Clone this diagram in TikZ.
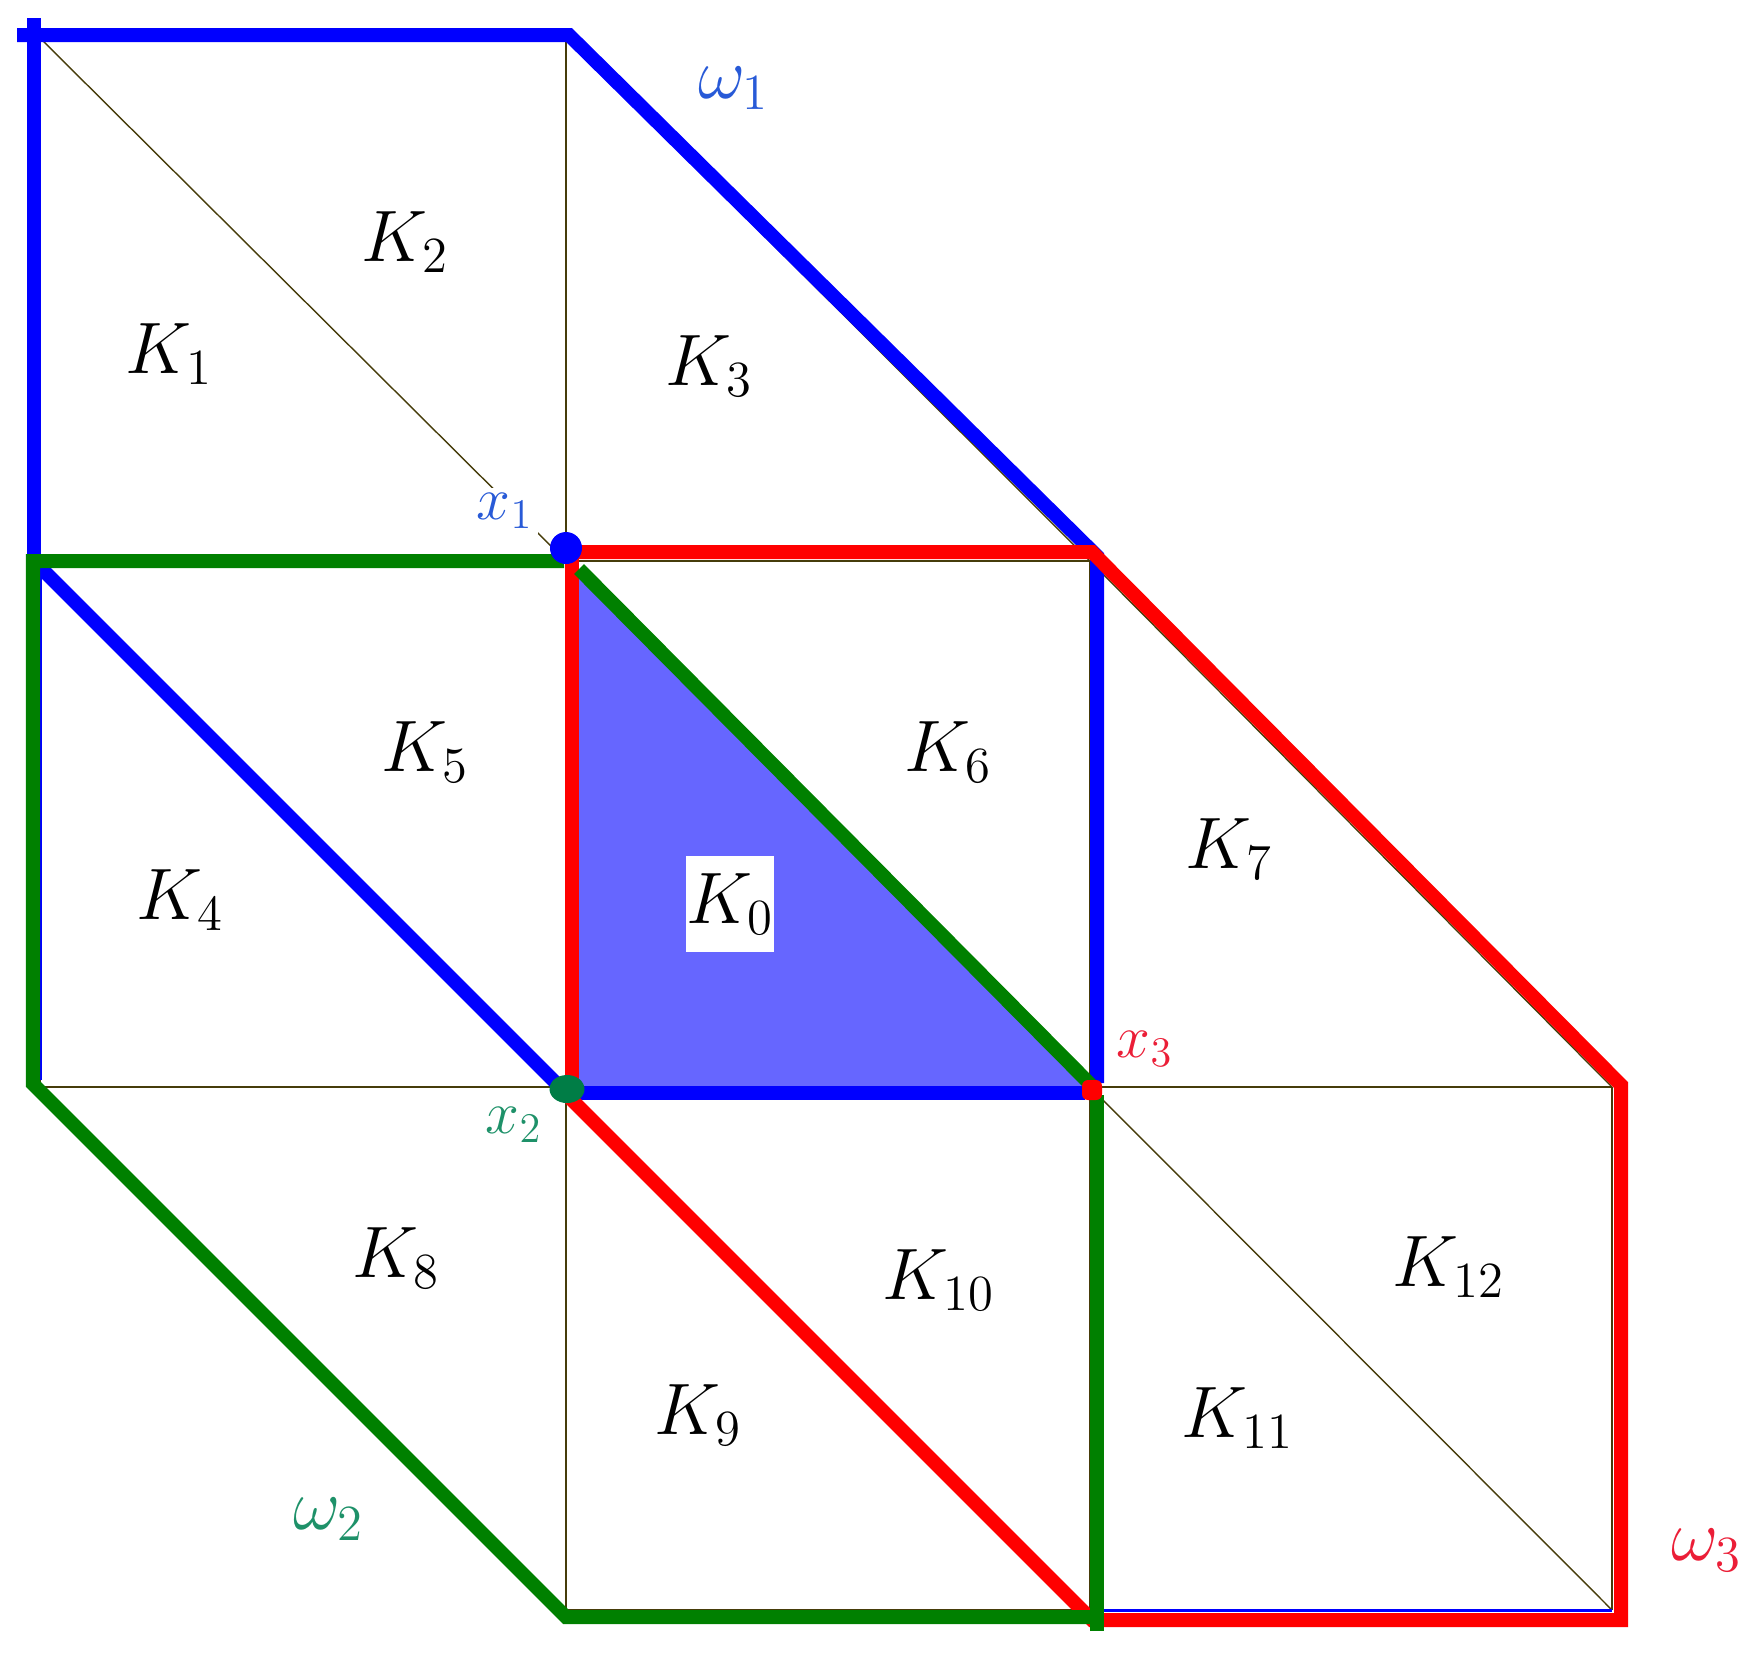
\documentclass[tikz,border=0pt]{standalone}
\usetikzlibrary{shapes.geometric}
\definecolor{meshc}{RGB}{70,60,10}
\definecolor{bl}{RGB}{0,0,255}
\definecolor{gr}{RGB}{0,128,0}
\definecolor{rd}{RGB}{255,0,0}
\definecolor{kfill}{RGB}{102,102,255}
\definecolor{dotgr}{RGB}{0,125,70}
\definecolor{labbl}{RGB}{40,90,215}
\definecolor{labgr}{RGB}{30,145,105}
\definecolor{labrd}{RGB}{235,30,55}
\begin{document}
\begin{tikzpicture}[x=0.01cm,y=-0.01cm,
  meshline/.style={draw=meshc,line width=0.4pt},
  bound/.style={line width=1.4mm,line join=miter},
  sliver/.style={draw=bl,line width=0.25mm},
  klab/.style={font=\huge,inner sep=0pt},
  xlab/.style={font=\LARGE,inner sep=1.5pt},
  wlab/.style={font=\huge,inner sep=0pt}]
\useasboundingbox (0,0) rectangle (1764,1656);
% grid points
\coordinate (p00) at (40,38);
\coordinate (p10) at (566,38);
\coordinate (p01) at (40,561);
\coordinate (p11) at (566,561);
\coordinate (p21) at (1090,561);
\coordinate (p02) at (40,1087);
\coordinate (p12) at (566,1087);
\coordinate (p22) at (1090,1087);
\coordinate (p32) at (1612,1087);
\coordinate (p13) at (566,1610);
\coordinate (p23) at (1090,1610);
\coordinate (p33) at (1612,1610);
% K0 fill
\fill[kfill] (p11) -- (p12) -- (p22) -- cycle;
% thin mesh
\draw[meshline] (p00) -- (p10);
\draw[meshline] (p00) -- (p02);
\draw[meshline] (p01) -- (p21);
\draw[meshline] (p02) -- (p32);
\draw[meshline] (p13) -- (p33);
\draw[meshline] (p10) -- (p13);
\draw[meshline] (p21) -- (p23);
\draw[meshline] (p32) -- (p33);
\draw[meshline] (p00) -- (p11);
\draw[meshline] (p10) -- (p21);
\draw[meshline] (p01) -- (p12);
\draw[meshline] (p11) -- (p22);
\draw[meshline] (p21) -- (p32);
\draw[meshline] (p02) -- (p13);
\draw[meshline] (p12) -- (p23);
\draw[meshline] (p22) -- (p33);
% small blue slivers
\draw[sliver] (40.5,561) -- (40.5,1080);
\draw[sliver] (1097,1610.5) -- (1612,1610.5);
% omega_1 (blue)
\draw[bound,draw=bl] (34,18) -- (34,555);
\draw[bound,draw=bl] (17,35) -- (569,35) -- (1097,556) -- (1097,1083);
\draw[bound,draw=bl] (566,1093) -- (1085,1093);
\draw[bound,draw=bl] (38,565) -- (563,1090);
% omega_3 (red)
\draw[bound,draw=rd] (566,552) -- (1092,552) -- (1621,1085) -- (1621,1620) -- (1092,1620) -- (568,1096);
\draw[bound,draw=rd] (572,1095) -- (572,545);
% omega_2 (green)
\draw[bound,draw=gr] (564,561) -- (33,561) -- (33,1084) -- (566,1617) -- (1097,1617);
\draw[bound,draw=gr] (1097,1631) -- (1097,1095);
\draw[bound,draw=gr] (579,569) -- (1093,1087);
% vertex dots
\node[circle,fill=bl,inner sep=0pt,minimum size=0.32cm] (d1) at (566,548) {};
\node[ellipse,fill=dotgr,inner sep=0pt,minimum width=0.35cm,minimum height=0.28cm] (d2) at (567,1089) {};
\node[rectangle,rounded corners=0.6mm,fill=rd,inner sep=0pt,minimum size=0.2cm] (d3) at (1092,1090) {};
% element labels
\node[klab] (k1) at (169,354) {$K_{1}$};
\node[klab] (k2) at (405,242) {$K_{2}$};
\node[klab] (k3) at (709,366) {$K_{3}$};
\node[klab] (k4) at (180,900) {$K_{4}$};
\node[klab] (k5) at (425,752) {$K_{5}$};
\node[klab] (k6) at (948,752) {$K_{6}$};
\node[klab] (k7) at (1229,849) {$K_{7}$};
\node[klab,fill=white,minimum width=0.81cm,minimum height=0.96cm] (k0) at (730,904) {$K_{0}$};
\node[klab] (k8) at (396,1258) {$K_{8}$};
\node[klab] (k9) at (698,1415) {$K_{9}$};
\node[klab] (k10) at (939,1280) {$K_{10}$};
\node[klab] (k11) at (1238,1418) {$K_{11}$};
\node[klab] (k12) at (1449,1267) {$K_{12}$};
% vertex labels
\node[xlab,fill=white,text=labbl] (x1) at (505,511) {$x_{1}$};
\node[xlab,text=labgr] (x2) at (514,1125) {$x_{2}$};
\node[xlab,text=labrd] (x3) at (1145,1049) {$x_{3}$};
% patch labels
\node[wlab,text=labbl] (w1) at (734,88) {$\omega_{1}$};
\node[wlab,text=labgr] (w2) at (329,1519) {$\omega_{2}$};
\node[wlab,text=labrd] (w3) at (1707,1550) {$\omega_{3}$};
\end{tikzpicture}
\end{document}
